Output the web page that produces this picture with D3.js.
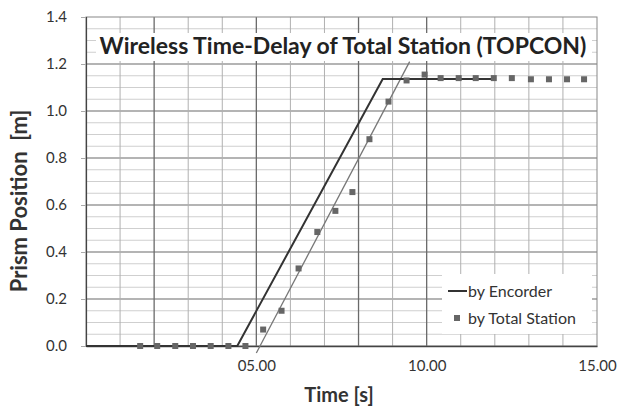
<!DOCTYPE html>
<html>
<head>
<meta charset="utf-8">
<script src="https://cdn.jsdelivr.net/npm/d3@7"></script>
<style>
  body { margin: 0; background: #fff; }
  .chart { width: 620px; height: 407px; }
  text { font-family: Lato, "Open Sans", sans-serif; fill: #333; }
</style>
</head>
<body>
<div class="chart"></div>
<script>
// total station readings (s, m)
const tsTime = [1.59, 2.09, 2.62, 3.14, 3.66, 4.18, 4.68, 5.20, 5.74, 6.24, 6.79, 7.32, 7.82, 8.32, 8.88, 9.41, 9.94, 10.41, 10.94, 11.44, 11.97, 12.50, 13.06, 13.59, 14.12, 14.62];
const tsPos = [0, 0, 0, 0, 0, 0, 0, 0.07, 0.15, 0.33, 0.485, 0.575, 0.655, 0.88, 1.04, 1.13, 1.155, 1.14, 1.14, 1.14, 1.14, 1.14, 1.135, 1.135, 1.135, 1.135];
// encoder trace
const encTime = [0, 4.44, 8.71, 12.0];
const encPos = [0, 0, 1.136, 1.136];
// fitted line through total station points
const fitTime = [5.0, 9.5];
const fitPos = [-0.03, 1.21];
const xTicks = [5, 10, 15];
const yTicks = [0, 0.2, 0.4, 0.6, 0.8, 1.0, 1.2, 1.4];

const width = 620, height = 407;
const pLeft = 86, pRight = 597, pTop = 17, pBottom = 346;

let svg = d3.select('.chart').append('svg')
	.attr('width', width)
	.attr('height', height);

const x = d3.scaleLinear().domain([0, 15]).range([pLeft, pRight]);
const y = d3.scaleLinear().domain([0, 1.4]).range([pBottom, pTop]);

// grid
for (let v = 0.05; v < 1.4; v += 0.05) {
	const major = Math.abs(v / 0.2 - Math.round(v / 0.2)) < 1e-6;
	svg.append('line')
		.attr('x1', pLeft).attr('x2', pRight)
		.attr('y1', y(v)).attr('y2', y(v))
		.style('stroke', major ? '#6a6a6a' : '#cfcfcf')
		.style('stroke-width', major ? 1.2 : 1);
}
for (let t = 1; t < 15; t++) {
	const dark = (t % 5 === 0 || t === 2 || t === 8);
	svg.append('line')
		.attr('x1', x(t)).attr('x2', x(t))
		.attr('y1', pTop).attr('y2', pBottom)
		.style('stroke', dark ? '#6a6a6a' : '#b0b0b0')
		.style('stroke-width', dark ? 1.3 : 1);
}
svg.append('rect')
	.attr('x', pLeft).attr('y', pTop)
	.attr('width', pRight - pLeft).attr('height', pBottom - pTop)
	.attr('fill', 'none')
	.style('stroke', '#888');

// axes
svg.append('g')
	.attr('transform', `translate(0,${pBottom})`)
	.call(d3.axisBottom(x).tickValues(xTicks).tickSize(0).tickPadding(14).tickFormat(d3.format('05.2f')))
	.call(g => g.select('.domain').style('stroke', '#444').style('stroke-width', 1.5))
	.call(g => g.selectAll('text').style('font-size', '15px').style('fill', '#333'));

svg.append('g')
	.attr('transform', `translate(${pLeft},0)`)
	.call(d3.axisLeft(y).tickValues(yTicks).tickSize(5).tickPadding(14).tickFormat(d3.format('.1f')))
	.call(g => g.select('.domain').style('stroke', '#444').style('stroke-width', 1.2))
	.call(g => g.selectAll('.tick line').style('stroke', '#aaa'))
	.call(g => g.selectAll('text').style('font-size', '15px').style('fill', '#333'));

// title
const title = svg.append('g');
title.append('rect')
	.attr('x', 96).attr('y', 33)
	.attr('width', 496).attr('height', 28)
	.attr('fill', '#fff');
title.append('text')
	.attr('x', 343).attr('y', 54)
	.attr('text-anchor', 'middle')
	.style('font-size', '23px')
	.style('font-weight', 'bold')
	.style('fill', '#222')
	.text('Wireless Time-Delay of Total Station (TOPCON)');

// lines
const line = d3.line().x(d => x(d[0])).y(d => y(d[1]));
svg.append('path')
	.datum(fitTime.map((t, i) => [t, fitPos[i]]))
	.attr('d', line)
	.attr('fill', 'none')
	.style('stroke', '#777')
	.style('stroke-width', 1.3);
svg.append('path')
	.datum(encTime.map((t, i) => [t, encPos[i]]))
	.attr('d', line)
	.attr('fill', 'none')
	.style('stroke', '#333')
	.style('stroke-width', 2);

svg.selectAll('rect.pt')
	.data(tsTime.map((t, i) => [t, tsPos[i]]))
	.enter().append('rect')
	.attr('class', 'pt')
	.attr('x', d => x(d[0]) - 3)
	.attr('y', d => y(d[1]) - 3)
	.attr('width', 6).attr('height', 6)
	.attr('fill', '#666');

// legend
const lg = svg.append('g');
lg.append('rect')
	.attr('x', 442).attr('y', 274)
	.attr('width', 150).attr('height', 60)
	.attr('fill', '#fff');
lg.append('line')
	.attr('x1', 448).attr('x2', 467)
	.attr('y1', 291).attr('y2', 291)
	.style('stroke', '#333').style('stroke-width', 2);
lg.append('text')
	.attr('x', 468).attr('y', 297)
	.style('font-size', '16px')
	.text('by Encorder');
lg.append('rect')
	.attr('x', 454).attr('y', 315)
	.attr('width', 6).attr('height', 6)
	.attr('fill', '#666');
lg.append('text')
	.attr('x', 468).attr('y', 324)
	.style('font-size', '16px')
	.text('by Total Station');

// axis titles
svg.append('text')
	.attr('x', 339).attr('y', 402)
	.attr('text-anchor', 'middle')
	.style('font-size', '20px')
	.style('font-weight', 'bold')
	.text('Time [s]');
svg.append('text')
	.attr('transform', 'translate(27,201) rotate(-90)')
	.attr('text-anchor', 'middle')
	.style('font-size', '22px')
	.style('font-weight', 'bold')
	.style('white-space', 'pre')
	.text('Prism Position  [m]');
</script>
</body>
</html>
